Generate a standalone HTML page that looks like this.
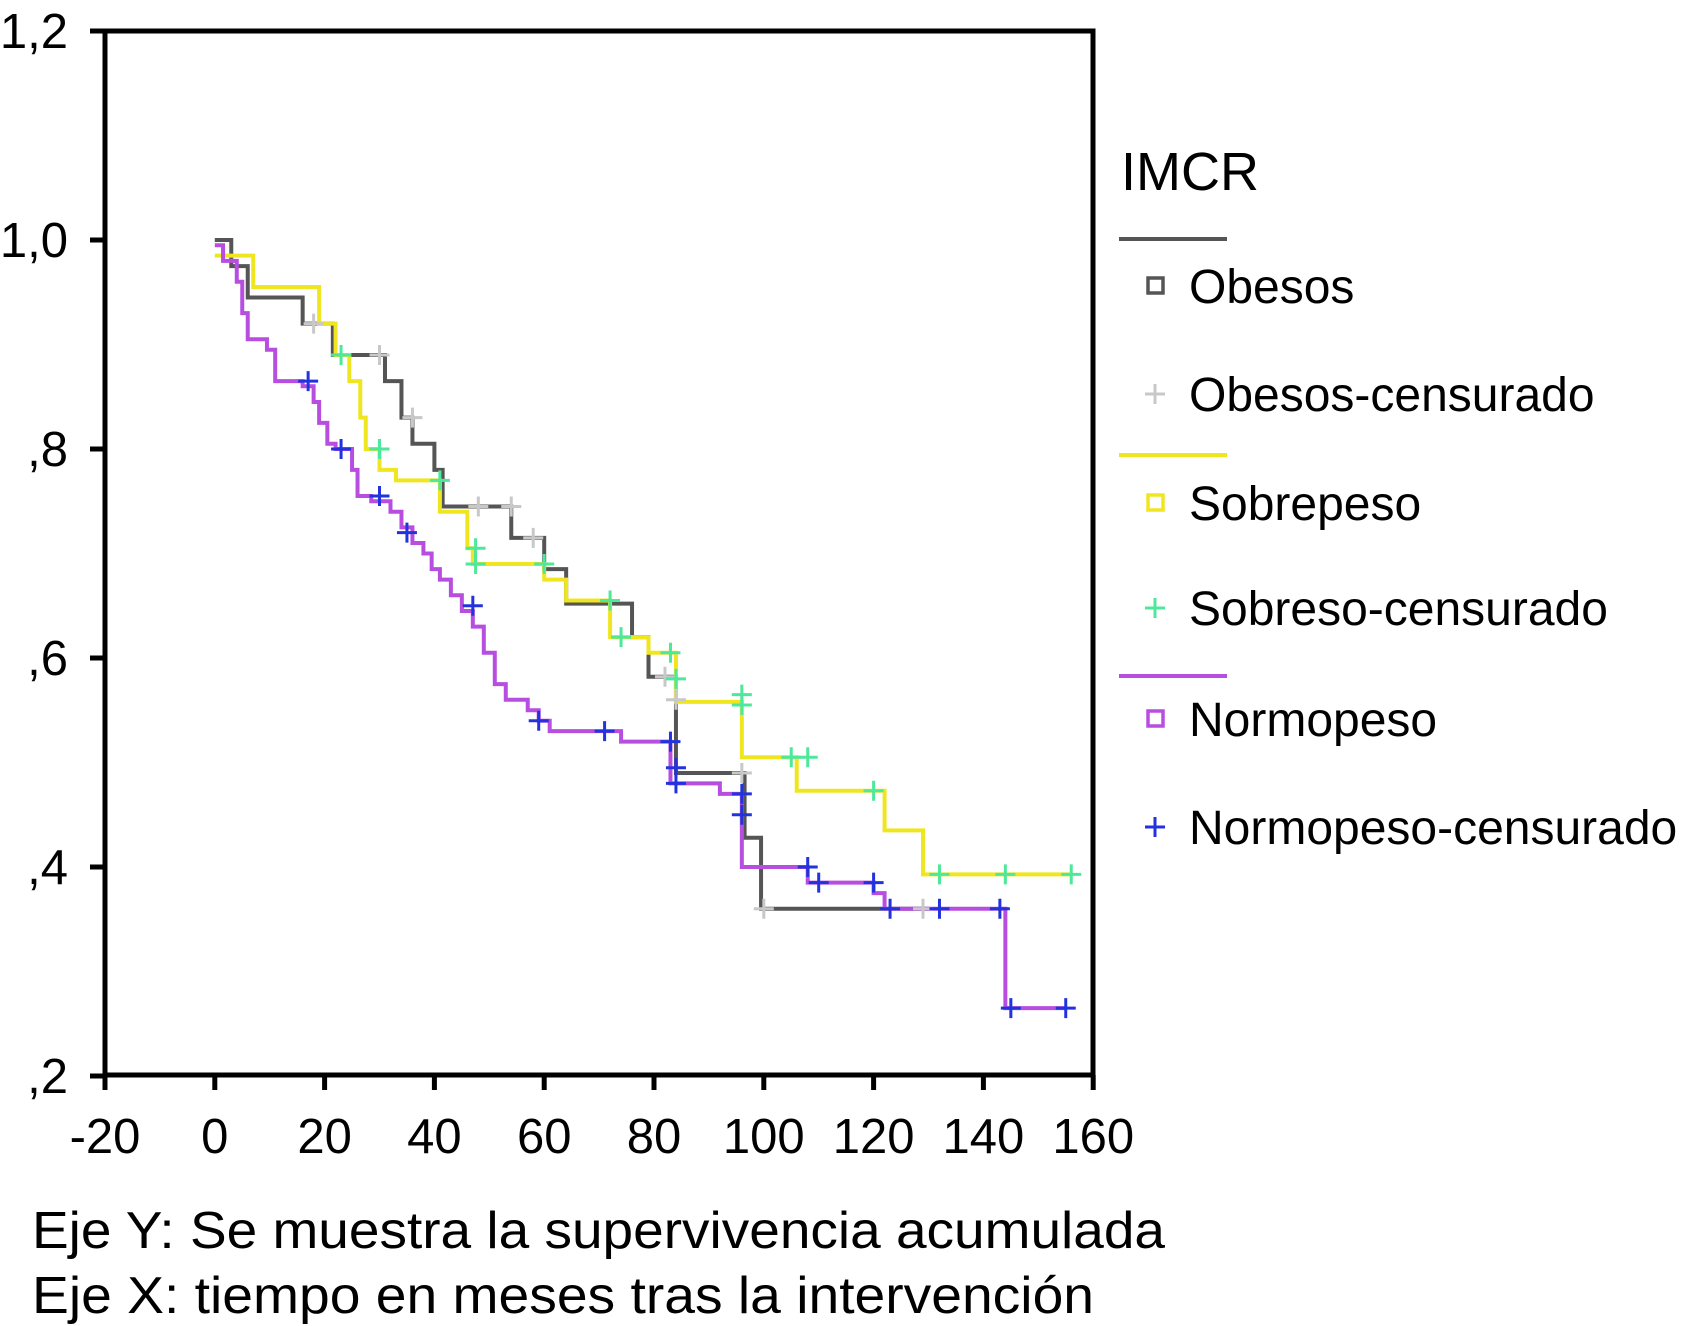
<!DOCTYPE html>
<html><head><meta charset="utf-8"><style>
html,body{margin:0;padding:0;background:#fff;}
svg{display:block;font-family:"Liberation Sans",Helvetica,Arial,sans-serif;}
</style></head><body>
<svg id="chart" width="1687" height="1326" viewBox="0 0 1687 1326">
<g id="axes"></g><g id="series"></g><g id="legend"></g>
<text x="32" y="1248" font-size="52" textLength="1133" lengthAdjust="spacingAndGlyphs">Eje Y: Se muestra la supervivencia acumulada</text>
<text x="32" y="1313" font-size="52" textLength="1062" lengthAdjust="spacingAndGlyphs">Eje X: tiempo en meses tras la intervención</text>
</svg>
<script>
const xTicks=[-20,0,20,40,60,80,100,120,140,160];
const yTicks=[0.2,0.4,0.6,0.8,1.0,1.2];
const yTickLabels=[",2",",4",",6",",8","1,0","1,2"];
const obesosT=[0,3,6,16,21.5,31,34,36,40,41.5,54,60,64,76,79,84,96.5,99.5,130];
const obesosS=[1.0,0.975,0.945,0.92,0.89,0.865,0.83,0.805,0.78,0.745,0.715,0.685,0.652,0.62,0.582,0.49,0.428,0.36,0.36];
const obesosCensT=[18,30,36,48,54,58,82,84,96,100,129];
const obesosCensS=[0.92,0.89,0.83,0.745,0.745,0.715,0.582,0.56,0.49,0.36,0.36];
const sobreT=[0,7,19,22,24.5,26.5,27.5,30,33,41,46,47,60,64,72,79,84,96,106,122,129,156];
const sobreS=[0.985,0.955,0.92,0.89,0.865,0.83,0.80,0.78,0.77,0.74,0.705,0.69,0.675,0.655,0.62,0.605,0.558,0.505,0.473,0.435,0.393,0.393];
const sobreCensT=[23,30,41,47.5,47.5,60,72,74,83,84,96,96,105,108,120,132,144,156];
const sobreCensS=[0.89,0.80,0.77,0.705,0.69,0.69,0.655,0.62,0.605,0.58,0.565,0.555,0.505,0.505,0.473,0.393,0.393,0.393];
const normoT=[0,1.5,4,5,6,9.5,11,16,18,19,20.5,22,25,26,28.5,32,34,36,38,39.5,41,43,45,47,49,51,53,57,59,61,74,83,92,96,108,120,122,144,155];
const normoS=[0.995,0.98,0.96,0.93,0.905,0.895,0.865,0.86,0.845,0.825,0.805,0.80,0.78,0.755,0.75,0.74,0.725,0.71,0.70,0.685,0.675,0.66,0.645,0.63,0.605,0.575,0.56,0.55,0.54,0.53,0.52,0.48,0.47,0.40,0.385,0.375,0.36,0.265,0.265];
const normoCensT=[17,23,30,35,47,59,71,83,84,84,96,96,108,110,120,123,132,143,145,155];
const normoCensS=[0.865,0.80,0.755,0.72,0.65,0.54,0.53,0.52,0.495,0.48,0.47,0.45,0.40,0.385,0.385,0.36,0.36,0.36,0.265,0.265];

const NS="http://www.w3.org/2000/svg";
const xs=v=>105+(v+20)*5.49;
const ys=v=>240+(1-v)*1045;
function mk(tag,attrs,parent,text){const e=document.createElementNS(NS,tag);for(const k in attrs)e.setAttribute(k,attrs[k]);if(text!==undefined)e.textContent=text;parent.appendChild(e);return e;}
const axes=document.getElementById('axes');
const frame=mk('rect',{x:105,y:31,width:988,height:1044,fill:'none',stroke:'#000','stroke-width':5},axes);


xTicks.forEach(t=>{
  const l=mk('line',{x1:xs(t),x2:xs(t),y1:1075,y2:1090,stroke:'#000','stroke-width':5},axes);
  
  
  const tx=mk('text',{x:xs(t),y:1153,'font-size':49,'text-anchor':'middle'},axes,String(t));
  
  
});
yTicks.forEach((t,i)=>{
  const l=mk('line',{x1:90,x2:105,y1:ys(t),y2:ys(t),stroke:'#000','stroke-width':5},axes);
  
  
  const tx=mk('text',{x:68,y:ys(t)+17,'font-size':49,'text-anchor':'end'},axes,yTickLabels[i]);
  
  
});
const series=document.getElementById('series');
function stepPath(T,S){let d='M'+xs(T[0])+','+ys(S[0]);for(let i=1;i<T.length;i++){d+=' H'+xs(T[i])+' V'+ys(S[i]);}return d;}
function cens(T,S,color,name){T.forEach((t,i)=>{const x=xs(t),y=ys(S[i]);
  const p=mk('path',{d:`M${x-10},${y} H${x+10} M${x},${y-10} V${y+10}`,stroke:color,'stroke-width':3,fill:'none'},series);
  
  });}
const p1=mk('path',{d:stepPath(obesosT,obesosS),stroke:'#555',fill:'none','stroke-width':4},series);


const p2=mk('path',{d:stepPath(sobreT,sobreS),stroke:'#f0e620',fill:'none','stroke-width':4},series);


const p3=mk('path',{d:stepPath(normoT,normoS),stroke:'#b84ee0',fill:'none','stroke-width':4},series);


cens(obesosCensT,obesosCensS,'#c8c8c8','obesos-censored-mark');
cens(sobreCensT,sobreCensS,'#4de89a','sobrepeso-censored-mark');
cens(normoCensT,normoCensS,'#2233dd','normopeso-censored-mark');

const lg=document.getElementById('legend');
const title=mk('text',{x:1121,y:190,'font-size':54},lg,'IMCR');


const entries=[
 ['line','#555',239,'obesos-legend-line'],
 ['sq','#555',286,'Obesos'],
 ['plus','#c8c8c8',394,'Obesos-censurado'],
 ['line','#f0e620',455,'sobrepeso-legend-line'],
 ['sq','#f0e620',503,'Sobrepeso'],
 ['plus','#4de89a',608,'Sobreso-censurado'],
 ['line','#b84ee0',676,'normopeso-legend-line'],
 ['sq','#b84ee0',719,'Normopeso'],
 ['plus','#2233dd',827,'Normopeso-censurado']];
entries.forEach(e=>{
  const [k,c,y,label]=e;
  if(k==='line'){const l=mk('line',{x1:1119,x2:1227,y1:y,y2:y,stroke:c,'stroke-width':4},lg);
    
    return;}
  if(k==='sq'){const r=mk('rect',{x:1148,y:y-8,width:15,height:15,fill:'none',stroke:c,'stroke-width':3.5},lg);
    
    }
  else{const p=mk('path',{d:`M${1145},${y} H${1165} M${1155},${y-10} V${y+10}`,stroke:c,'stroke-width':3,fill:'none'},lg);
    
    }
  const t=mk('text',{x:1189,y:y+17,'font-size':48},lg,label);
  
  
});
</script>
</body></html>
